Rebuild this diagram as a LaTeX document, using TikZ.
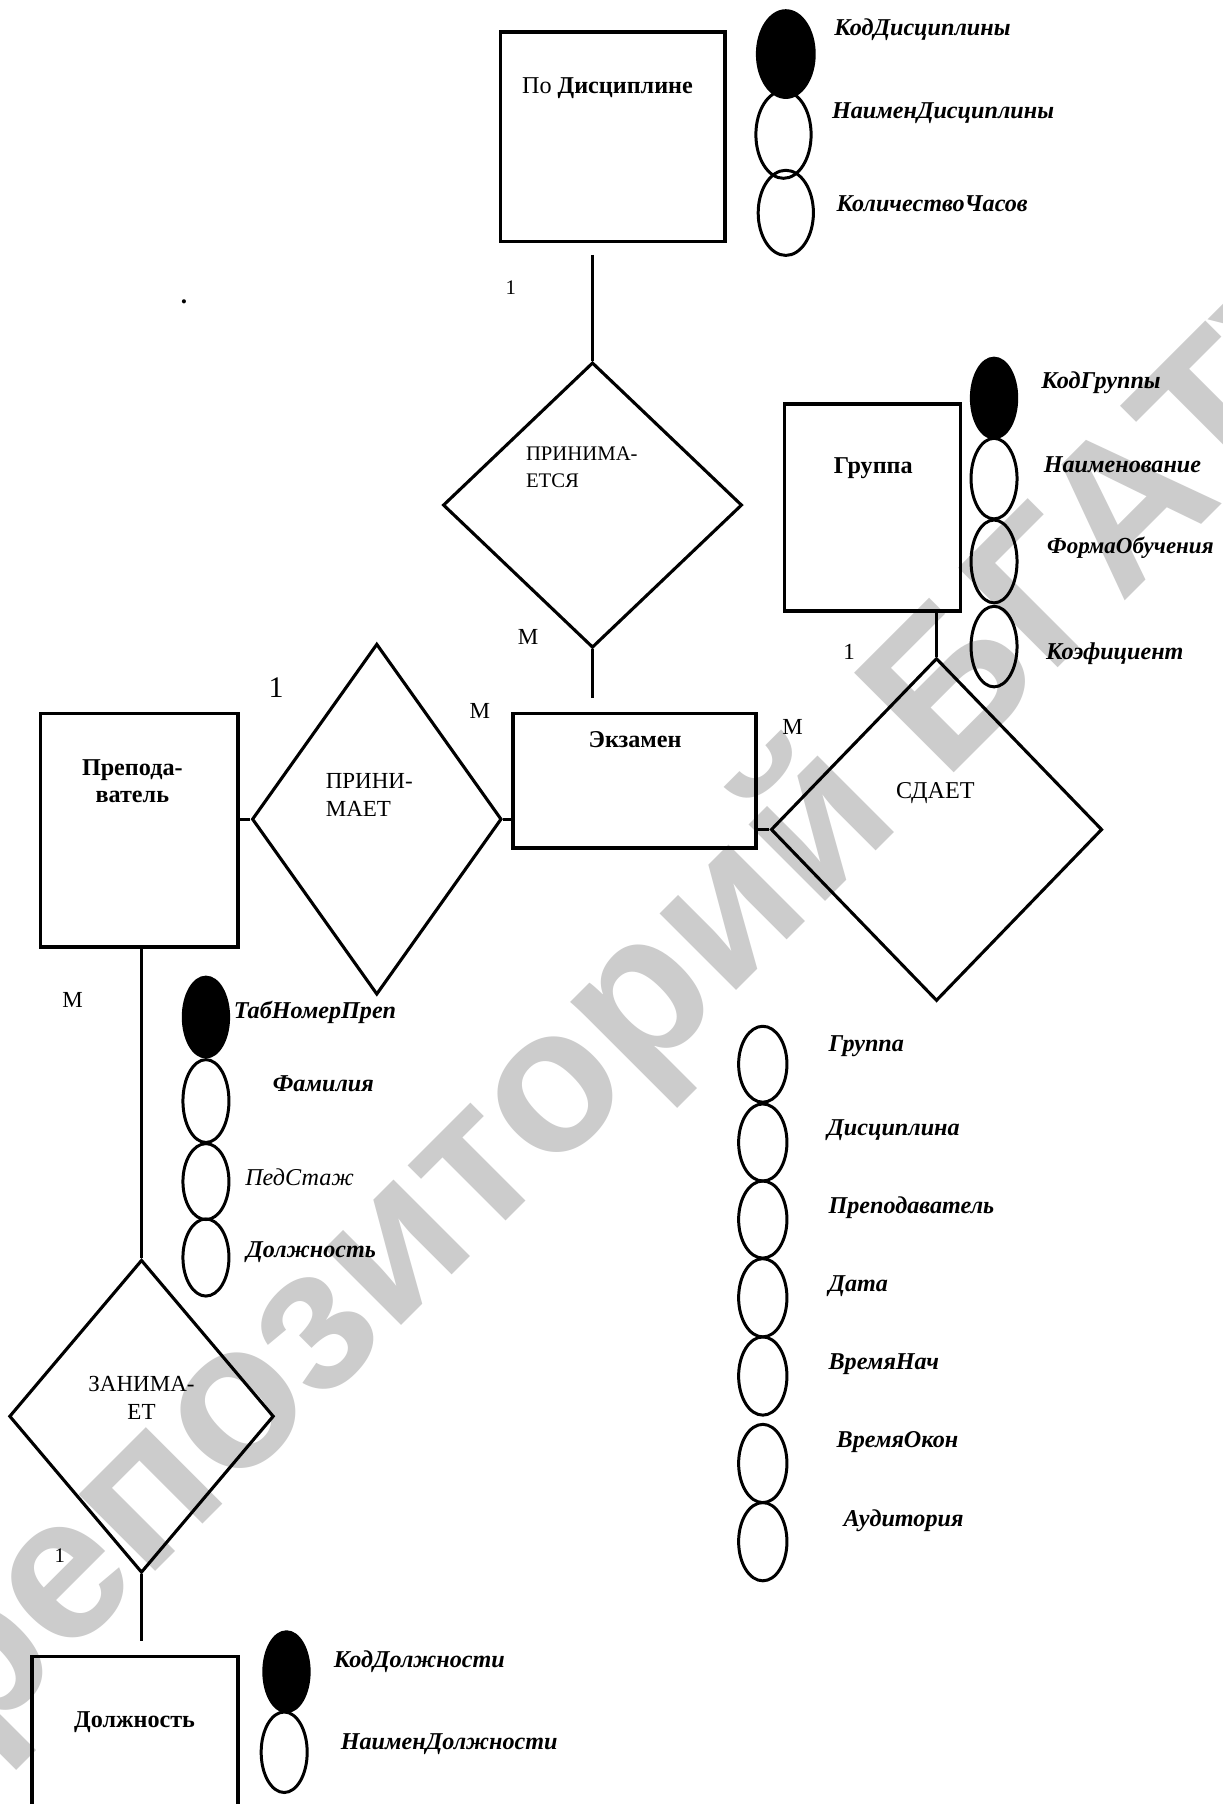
\documentclass[tikz,border=0pt]{standalone}
\usepackage{fontspec}
\setmainfont{Liberation Serif}
\newfontfamily\wmfont{Liberation Sans}
\usetikzlibrary{shapes.geometric}
\definecolor{wmgray}{HTML}{CCCCCC}
\begin{document}
\begin{tikzpicture}[x=1pt,y=-1pt,
  entbox/.style={draw, line width=3pt, rectangle, inner sep=0pt},
  relshape/.style={draw, line width=2.7pt, diamond, inner sep=0pt},
  link/.style={line width=2.7pt},
  attrkey/.style={ellipse, fill=black, draw, line width=2pt, inner sep=0pt},
  attrval/.style={ellipse, draw, line width=2.6pt, inner sep=0pt},
  attrtext/.style={anchor=west, inner sep=0pt, font=\fontsize{21}{24}\selectfont\bfseries\itshape},
  enttext/.style={inner sep=0pt, font=\fontsize{21}{23}\selectfont\bfseries, align=center},
  reltext/.style={inner sep=0pt, font=\fontsize{20}{24}\selectfont},
  card/.style={inner sep=0pt, font=\fontsize{20}{22}\selectfont},
]
\clip (0,0) rectangle (1063,1568);
\fill[white] (0,0) rectangle (1063,1568);

% repository watermark
\node[rotate=45, text=wmgray, inner sep=0pt] (wm) at (563,870)
  {\fontsize{178}{178}\wmfont\bfseries репозиторий БГАТУ};

% entities
\node[entbox, minimum width=195, minimum height=182] (pd) at (532.5,119) {};
\node[entbox, minimum width=153, minimum height=180] (gr) at (758.5,441) {};
\node[entbox, minimum width=211, minimum height=117] (ex) at (551.5,678.5) {};
\node[entbox, minimum width=172, minimum height=203] (prep) at (121,721.5) {};
\node[entbox, minimum width=179, minimum height=160] (dl) at (117.5,1520) {};

\node[inner sep=0pt, font=\fontsize{21}{23}\selectfont] (pdt) at (528,77) {По \textbf{Дисциплине}};
\node[enttext] (grt) at (759,407) {Группа};
\node[enttext] (ext) at (552,643) {Экзамен};
\node[enttext] (prept) at (115,679) {Препода-\\ватель};
\node[enttext] (dlt) at (117,1497) {Должность};

% relationships
\node[relshape, minimum width=260, minimum height=248] (pt) at (515,439) {};
\node[relshape, minimum width=288, minimum height=298] (sd) at (814,721) {};
\node[relshape, minimum width=217, minimum height=305] (pm) at (327.5,712) {};
\node[relshape, minimum width=230, minimum height=272] (zn) at (123,1231) {};

\node[reltext, font=\fontsize{18}{24}\selectfont, align=left, anchor=west] (ptt) at (457,406) {ПРИНИМА-\\ЕТСЯ};
\node[reltext, font=\fontsize{21}{24}\selectfont] (sdt) at (813,689) {СДАЕТ};
\node[reltext, align=left, anchor=west] (pmt) at (283,691) {ПРИНИ-\\МАЕТ};
\node[reltext, align=center] (znt) at (123,1215) {ЗАНИМА-\\ЕТ};

% connectors
\draw[link, shorten <=10pt] (pd.south -| pt.north) -- (pt.north);
\draw[link, shorten >=12pt] (pt.south) -- (pt.south |- ex.north);
\draw[link] (sd.west) -- (sd.west -| ex.east);
\draw[link] (sd.north) -- (sd.north |- gr.south);
\draw[link] (pm.west) -- (pm.west -| prep.east);
\draw[link] (pm.east) -- (pm.east -| ex.west);
\draw[link] (zn.north |- prep.south) -- (zn.north);
\draw[link, shorten >=12pt] (zn.south) -- (zn.south |- dl.north);

% cardinalities
\node[card, font=\fontsize{18}{20}\selectfont] (c1) at (444,250) {1};
\node[card] (c2) at (459,554) {М};
\node[card, font=\fontsize{26}{28}\selectfont] (c3) at (240,598) {1};
\node[card] (c4) at (417,618) {М};
\node[card] (c5) at (738,567) {1};
\node[card] (c6) at (689,632) {М};
\node[card] (c7) at (63,869) {М};
\node[card, font=\fontsize{18}{20}\selectfont] (c8) at (52,1352) {1};
\node[card, font=\fontsize{22}{22}\selectfont\bfseries] (dot) at (160,262) {.};

% attributes of ПоДисциплине
\node[attrkey, minimum width=50, minimum height=76] (pda1) at (683,47) {};
\node[attrval, minimum width=48, minimum height=76] (pda2) at (681,117) {};
\node[attrval, minimum width=48, minimum height=74] (pda3) at (683,185) {};
\node[attrtext] (pdl1) at (725,26) {КодДисциплины};
\node[attrtext] (pdl2) at (723,98) {НаименДисциплины};
\node[attrtext] (pdl3) at (727,177) {КоличествоЧасов};

% attributes of Группа
\node[attrkey, minimum width=40, minimum height=70] (gra1) at (864,346) {};
\node[attrval, minimum width=40, minimum height=70] (gra2) at (864,416) {};
\node[attrval, minimum width=40, minimum height=72] (gra3) at (864,488) {};
\node[attrval, minimum width=40, minimum height=70] (gra4) at (864,562) {};
\node[attrtext] (grl1) at (905,333) {КодГруппы};
\node[attrtext] (grl2) at (907,404) {Наименование};
\node[attrtext, font=\fontsize{20}{24}\selectfont\bfseries\itshape] (grl3) at (910,476) {ФормаОбучения};
\node[attrtext] (grl4) at (909,568) {Коэфициент};

% attributes of Преподаватель
\node[attrkey, minimum width=40, minimum height=70] (pra1) at (179,884) {};
\node[attrval, minimum width=40, minimum height=72] (pra2) at (179,957) {};
\node[attrval, minimum width=40, minimum height=66] (pra3) at (179,1027) {};
\node[attrval, minimum width=40, minimum height=67] (pra4) at (179,1093) {};
\node[attrtext] (prl1) at (203,880) {ТабНомерПреп};
\node[attrtext] (prl2) at (237,942) {Фамилия};
\node[attrtext, font=\fontsize{21}{24}\selectfont\itshape] (prl3) at (213,1023) {ПедСтаж};
\node[attrtext] (prl4) at (214,1088) {Должность};

% attributes of Экзамен
\node[attrval, minimum width=42, minimum height=66] (exa1) at (663,925) {};
\node[attrval, minimum width=42, minimum height=67] (exa2) at (663,993) {};
\node[attrval, minimum width=42, minimum height=67] (exa3) at (663,1060) {};
\node[attrval, minimum width=42, minimum height=68] (exa4) at (663,1128) {};
\node[attrval, minimum width=42, minimum height=68] (exa5) at (663,1196) {};
\node[attrval, minimum width=42, minimum height=68] (exa6) at (663,1272) {};
\node[attrval, minimum width=42, minimum height=68] (exa7) at (663,1340) {};
\node[attrtext] (exl1) at (720,909) {Группа};
\node[attrtext] (exl2) at (719,982) {Дисциплина};
\node[attrtext] (exl3) at (720,1050) {Преподаватель};
\node[attrtext] (exl4) at (720,1118) {Дата};
\node[attrtext] (exl5) at (720,1186) {ВремяНач};
\node[attrtext] (exl6) at (727,1253) {ВремяОкон};
\node[attrtext] (exl7) at (733,1322) {Аудитория};

% attributes of Должность
\node[attrkey, minimum width=40, minimum height=70] (dla1) at (249,1453) {};
\node[attrval, minimum width=40, minimum height=70] (dla2) at (247,1523) {};
\node[attrtext] (dll1) at (290,1444) {КодДолжности};
\node[attrtext] (dll2) at (296,1516) {НаименДолжности};
\end{tikzpicture}
\end{document}
